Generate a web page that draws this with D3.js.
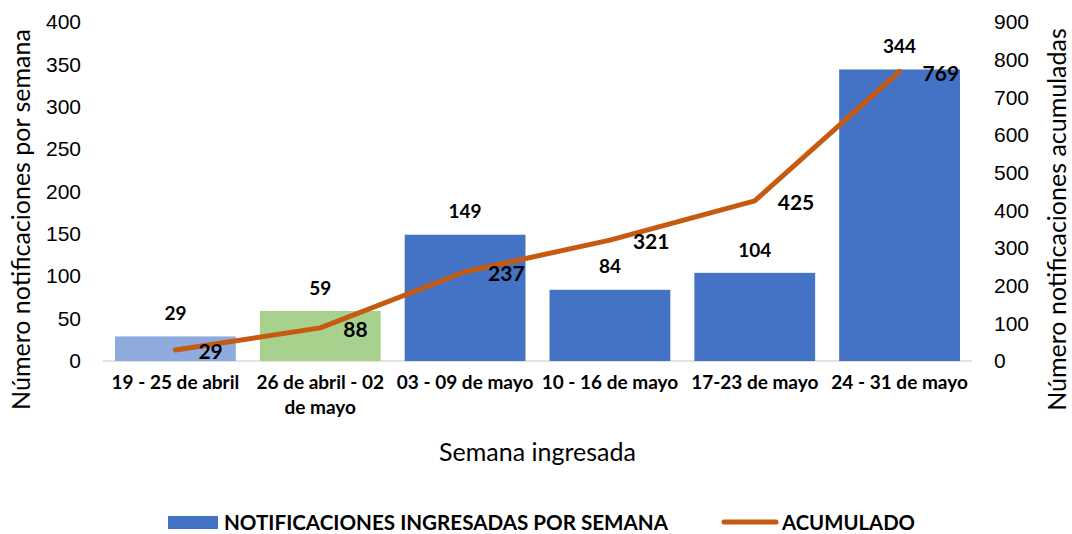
<!DOCTYPE html>
<html>
<head>
<meta charset="utf-8">
<script src="https://cdn.jsdelivr.net/npm/d3@7"></script>
<style>
  body { margin: 0; background: #fff; }
  svg { font-family: Lato, "Open Sans", sans-serif; }
</style>
</head>
<body>
<div id="chart"></div>
<script>
const semanas = ['19 - 25 de abril', '26 de abril - 02 de mayo', '03 - 09 de mayo', '10 - 16 de mayo', '17-23 de mayo', '24 - 31 de mayo'];
const porSemana = [29, 59, 149, 84, 104, 344];
const acumulado = [29, 88, 237, 321, 425, 769];
const barColors = ['#8FAADC', '#A9D18E', '#4472C4', '#4472C4', '#4472C4', '#4472C4'];
const leftTicks = [0, 50, 100, 150, 200, 250, 300, 350, 400];
const rightTicks = [0, 100, 200, 300, 400, 500, 600, 700, 800, 900];

const width = 1072, height = 534;
const margin = { top: 22, right: 100, bottom: 173, left: 103 };

const svg = d3.select('#chart').append('svg')
    .attr('width', width)
    .attr('height', height);

const x = d3.scaleBand()
    .domain(semanas)
    .range([margin.left, width - margin.right])
    .paddingInner(0.166)
    .paddingOuter(0.083);

const y = d3.scaleLinear().domain([0, 400]).range([height - margin.bottom, margin.top]);
const y2 = d3.scaleLinear().domain([0, 900]).range([height - margin.bottom, margin.top]);

// baseline
svg.append('line')
    .attr('x1', margin.left).attr('x2', width - margin.right)
    .attr('y1', y(0)).attr('y2', y(0))
    .attr('stroke', '#d9d9d9').attr('stroke-width', 1.5);

// left axis
svg.append('g')
    .attr('transform', `translate(${margin.left - 22},0)`)
    .call(d3.axisLeft(y).tickValues(leftTicks).tickSize(0).tickPadding(0))
    .call(g => g.select('.domain').remove())
    .selectAll('text')
      .attr('font-size', 21)
      .attr('fill', '#000');

// right axis
svg.append('g')
    .attr('transform', `translate(${width - margin.right + 22},0)`)
    .call(d3.axisRight(y2).tickValues(rightTicks).tickSize(0).tickPadding(0))
    .call(g => g.select('.domain').remove())
    .selectAll('text')
      .attr('font-size', 21)
      .attr('fill', '#000');

// bars
svg.append('g')
  .selectAll('rect')
  .data(semanas)
  .join('rect')
    .attr('x', d => x(d))
    .attr('y', (d, i) => y(porSemana[i]))
    .attr('width', x.bandwidth())
    .attr('height', (d, i) => y(0) - y(porSemana[i]))
    .attr('fill', (d, i) => barColors[i]);

// bar labels
svg.append('g')
  .selectAll('text')
  .data(semanas)
  .join('text')
    .attr('x', d => x(d) + x.bandwidth() / 2)
    .attr('y', (d, i) => y(porSemana[i]) - 23)
    .attr('dy', '0.35em')
    .attr('text-anchor', 'middle')
    .attr('font-size', 19)
    .attr('font-weight', 'bold')
    .text((d, i) => porSemana[i]);

// line
const cx = d => x(d) + x.bandwidth() / 2;
const line = d3.line()
    .x(d => cx(d))
    .y((d, i) => y2(acumulado[i]));

svg.append('path')
    .datum(semanas)
    .attr('d', line)
    .attr('fill', 'none')
    .attr('stroke', '#C55A11')
    .attr('stroke-width', 5)
    .attr('stroke-linecap', 'round')
    .attr('stroke-linejoin', 'round');

// line labels (right of point)
svg.append('g')
  .selectAll('text')
  .data(semanas)
  .join('text')
    .attr('x', d => cx(d) + 23)
    .attr('y', (d, i) => y2(acumulado[i]) + 2)
    .attr('dy', '0.35em')
    .attr('text-anchor', 'start')
    .attr('font-size', 21)
    .attr('font-weight', 'bold')
    .text((d, i) => acumulado[i]);

// category labels
const cat = svg.append('g')
  .selectAll('text')
  .data(semanas)
  .join('text')
    .attr('x', d => cx(d))
    .attr('y', y(0) + 28)
    .attr('text-anchor', 'middle')
    .attr('font-size', 19)
    .attr('font-weight', 'bold');

cat.each(function(d) {
  const t = d3.select(this);
  const lines = d === '26 de abril - 02 de mayo' ? ['26 de abril - 02', 'de mayo'] : [d];
  lines.forEach((l, i) => {
    t.append('tspan').attr('x', cx(d)).attr('dy', i ? 25 : 0).text(l);
  });
});

// axis titles
svg.append('text')
    .attr('transform', `translate(30,${(margin.top + y(0)) / 2 + 28}) rotate(-90)`)
    .attr('text-anchor', 'middle')
    .attr('font-size', 25)
    .text('Número notificaciones por semana');

svg.append('text')
    .attr('transform', `translate(1066,${(margin.top + y(0)) / 2 + 28}) rotate(-90)`)
    .attr('text-anchor', 'middle')
    .attr('font-size', 25)
    .text('Número notificaciones acumuladas');

svg.append('text')
    .attr('x', (margin.left + width - margin.right) / 2)
    .attr('y', 461)
    .attr('text-anchor', 'middle')
    .attr('font-size', 25)
    .text('Semana ingresada');

// legend
const lg = svg.append('g').attr('font-size', 21).attr('font-weight', 'bold');
lg.append('rect')
    .attr('x', 168).attr('y', 516).attr('width', 50).attr('height', 13)
    .attr('fill', '#4472C4');
lg.append('text')
    .attr('x', 224).attr('y', 523).attr('dy', '0.35em')
    .attr('textLength', 444).attr('lengthAdjust', 'spacingAndGlyphs')
    .text('NOTIFICACIONES INGRESADAS POR SEMANA');
lg.append('line')
    .attr('x1', 724).attr('x2', 776).attr('y1', 522).attr('y2', 522)
    .attr('stroke', '#C55A11').attr('stroke-width', 5).attr('stroke-linecap', 'round');
lg.append('text')
    .attr('x', 782).attr('y', 523).attr('dy', '0.35em')
    .attr('textLength', 133).attr('lengthAdjust', 'spacingAndGlyphs')
    .text('ACUMULADO');
</script>
</body>
</html>
